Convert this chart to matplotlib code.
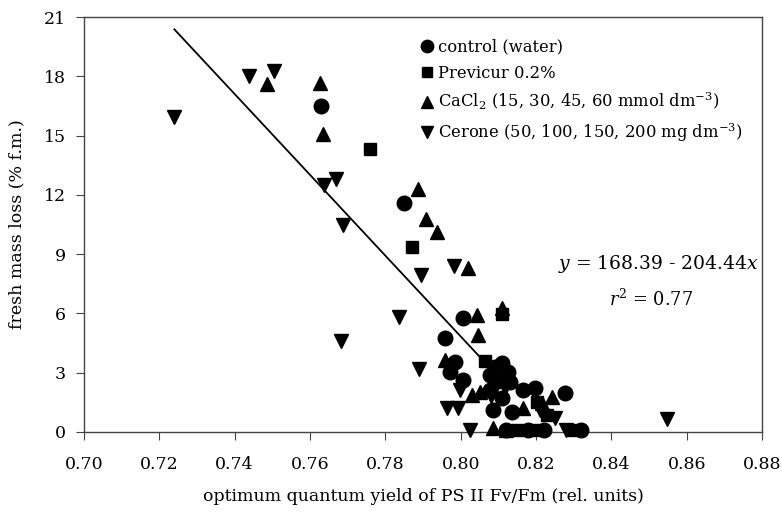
#fresh mass loss vs Fv/Fm scatter with regression line

import numpy as np
import matplotlib
matplotlib.use("Agg")
import matplotlib.pyplot as plt

plt.rcParams['font.family'] = ['DejaVu Serif']
plt.rcParams['mathtext.fontset'] = 'dejavuserif'

#DATA

#control (water) - circles
control_x = [0.763, 0.785, 0.8006, 0.7958, 0.7985, 0.811, 0.7972, 0.8006, 0.8078, 0.8126,
             0.813, 0.8078, 0.8166, 0.8197, 0.8277, 0.8086, 0.8136, 0.812, 0.818, 0.822,
             0.832, 0.809, 0.811, 0.810]
control_y = [16.5, 11.6, 5.75, 4.75, 3.55, 3.5, 3.04, 2.63, 2.88, 3.04,
             2.53, 2.13, 2.13, 2.23, 1.97, 1.11, 1.01, 0.1, 0.1, 0.1,
             0.1, 3.3, 1.7, 2.6]

#Previcur 0.2% - squares
previcur_x = [0.776, 0.7871, 0.811, 0.8065, 0.8203, 0.823, 0.815, 0.8298, 0.820]
previcur_y = [14.3, 9.36, 5.95, 3.6, 1.5, 0.85, 0.1, 0.1, 0.1]

#CaCl2 - up triangles
cacl_x = [0.7627, 0.7486, 0.7635, 0.7887, 0.7908, 0.7937, 0.802, 0.811, 0.8043, 0.8046,
          0.7958, 0.803, 0.8051, 0.8242, 0.8166, 0.8216, 0.8086, 0.812]
cacl_y = [17.66, 17.6, 15.1, 12.3, 10.78, 10.12, 8.3, 6.3, 5.92, 4.9,
          3.64, 1.87, 2.02, 1.77, 1.2, 1.45, 0.2, 0.1]

#Cerone - down triangles
cerone_x = [0.7438, 0.7504, 0.7239, 0.7637, 0.7669, 0.7688, 0.7895, 0.7982, 0.7836, 0.7682,
            0.789, 0.7998, 0.8118, 0.7964, 0.7993, 0.821, 0.825, 0.8025, 0.828, 0.8548, 0.808]
cerone_y = [18.0, 18.27, 15.94, 12.5, 12.8, 10.48, 7.95, 8.4, 5.8, 4.6,
            3.19, 2.13, 2.23, 1.21, 1.21, 1.1, 0.7, 0.1, 0.1, 0.66, 1.8]

labels = ['control (water)', 'Previcur 0.2%',
          'CaCl$_2$ (15, 30, 45, 60 mmol dm$^{-3}$)',
          'Cerone (50, 100, 150, 200 mg dm$^{-3}$)']

#regression
intercept, slope = 168.39, -204.44
line_x = np.array([0.724, 0.805])

#PLOT

fig = plt.figure(figsize=(7.82, 5.12), dpi=100)
ax = fig.add_axes([0.1074, 0.15625, 0.867, 0.8105])

ax.plot(line_x, intercept + slope * line_x, color='black', lw=1.3, zorder=2)

style = dict(color='black', linestyle='none', clip_on=False, zorder=3)
h1, = ax.plot(control_x, control_y, marker='o', markersize=10.5, **style)
h2, = ax.plot(previcur_x, previcur_y, marker='s', markersize=9, **style)
h3, = ax.plot(cacl_x, cacl_y, marker='^', markersize=10, **style)
h4, = ax.plot(cerone_x, cerone_y, marker='v', markersize=10, **style)

ax.legend([h1, h2, h3, h4], labels, loc='upper left', bbox_to_anchor=(0.48, 0.975),
          frameon=False, fontsize=11.8, handlelength=0.8, handletextpad=0.25,
          labelspacing=0.55, markerscale=0.85, borderpad=0.2)

ax.text(0.8525, 8.5, '$y$ = 168.39 - 204.44$x$', fontsize=13.5, ha='center', va='center')
ax.text(0.8505, 6.7, '$r^{2}$ = 0.77', fontsize=12.8, ha='center', va='center')

ax.set_xlim(0.70, 0.88)
ax.set_ylim(0, 21)
ax.set_xticks(np.arange(0.70, 0.881, 0.02))
ax.set_xticklabels([f'{v:.2f}' for v in np.arange(0.70, 0.881, 0.02)])
ax.set_yticks(range(0, 22, 3))

for s in ax.spines.values():
    s.set_color('#444444')
    s.set_linewidth(1.0)

ax.tick_params(axis='both', direction='out', length=6, color='#444444',
               labelsize=12.5, pad=7)
ax.tick_params(axis='x', pad=11)

ax.set_xlabel('optimum quantum yield of PS II Fv/Fm (rel. units)', fontsize=12.5, labelpad=11)
ax.set_ylabel('fresh mass loss (% f.m.)', fontsize=12.5, labelpad=13)

plt.savefig('out.png', dpi=100)
plt.close()
